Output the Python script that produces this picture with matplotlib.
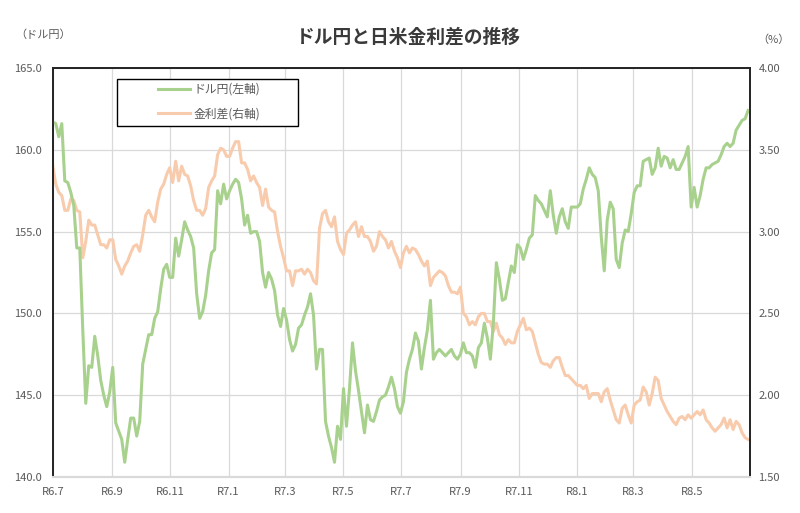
import numpy as np
import pandas as pd
import matplotlib
matplotlib.use("Agg")
from matplotlib import pyplot as plt
from matplotlib.patches import Rectangle

plt.rcParams['font.family'] = ['Noto Sans CJK JP', 'DejaVu Sans']

# ドル円 (left axis), ~3 days apart
usdjpy = [
    161.7, 161.6, 160.8, 161.6, 158.1, 158.0, 157.4, 156.6, 154.0, 154.0,
    149.0, 144.5, 146.8, 146.7, 148.6, 147.4, 145.9, 145.0, 144.3, 145.2,
    146.7, 143.3, 142.8, 142.3, 140.9, 142.3, 143.6, 143.6, 142.5, 143.4,
    146.9, 147.8, 148.7, 148.7, 149.7, 150.1, 151.5, 152.7, 153.0, 152.2,
    152.2, 154.6, 153.5, 154.5, 155.6,
    155.1, 154.7, 154.0, 151.2, 149.7, 150.1, 151.1, 152.6, 153.7, 153.9,
    157.5, 156.7, 157.9, 157.0, 157.5, 157.9, 158.2, 158.0, 157.0, 155.4,
    156.0, 154.9, 155.0, 155.0, 154.4, 152.5, 151.6, 152.5, 152.1, 151.4,
    149.9, 149.2, 150.3, 149.6, 148.4, 147.7, 148.1, 149.1, 149.3, 149.9,
    150.4, 151.2, 149.9, 146.6, 147.8,
    147.8, 143.4, 142.5, 141.8, 140.9, 143.1, 142.3, 145.4, 143.1, 145.4,
    148.2, 146.5, 145.3, 144.0, 142.7, 144.4, 143.5, 143.4, 144.0, 144.7,
    144.9, 145.0, 145.5, 146.1, 145.4, 144.3, 143.9, 144.6, 146.4, 147.2,
    147.8, 148.8, 148.3, 146.6, 147.9, 149.0, 150.8, 147.2, 147.6, 147.8,
    147.6, 147.4, 147.6, 147.8, 147.4,
    147.2, 147.5, 148.2, 147.6, 147.6, 147.4, 146.7, 147.9, 148.2, 149.4,
    148.5, 147.2, 149.4, 153.1, 152.1, 150.8, 150.9, 151.9, 152.9, 152.5,
    154.2, 154.0, 153.3, 153.9, 154.6, 154.8, 157.2, 156.9, 156.7, 156.3,
    155.9, 157.5, 156.0, 154.9, 155.9, 156.4, 155.6, 155.2, 156.5, 156.5,
    156.5, 156.7, 157.6, 158.2, 158.9,
    158.5, 158.3, 157.5, 154.7, 152.6, 155.7, 156.8, 156.4, 153.3, 152.8,
    154.3, 155.1, 155.0, 156.1, 157.4, 157.8, 157.8, 159.3, 159.4, 159.5,
    158.5, 158.9, 160.1, 159.0, 159.6, 159.5, 158.9, 159.4, 158.8, 158.8,
    159.2, 159.6, 160.2, 156.5, 157.7, 156.5, 157.2, 158.2, 158.9, 158.9,
    159.1, 159.2, 159.3, 159.7, 160.2, 160.4, 160.2, 160.4, 161.2, 161.5,
    161.8, 161.9, 162.4,
]

# 金利差 (right axis, %)
spread = [
    3.40, 3.29, 3.24, 3.22, 3.13, 3.13, 3.20, 3.19, 3.13, 3.12,
    2.84, 2.94, 3.07, 3.04, 3.04, 2.98, 2.92, 2.92, 2.90, 2.95,
    2.95, 2.83, 2.79, 2.74, 2.79, 2.82, 2.87, 2.91, 2.92, 2.88,
    2.98, 3.10, 3.13, 3.09, 3.06, 3.18, 3.26, 3.29, 3.35, 3.39,
    3.30, 3.43, 3.31, 3.40, 3.35,
    3.34, 3.28, 3.19, 3.13, 3.13, 3.10, 3.14, 3.27, 3.31, 3.34,
    3.47, 3.51, 3.50, 3.46, 3.46, 3.51, 3.55, 3.55, 3.42, 3.42,
    3.38, 3.31, 3.34, 3.30, 3.27, 3.16, 3.26, 3.15, 3.13, 3.12,
    3.00, 2.91, 2.84, 2.76, 2.76, 2.67, 2.76, 2.76, 2.77, 2.74,
    2.77, 2.75, 2.70, 2.68, 3.02,
    3.11, 3.13, 3.06, 3.03, 3.09, 2.94, 2.89, 2.86, 2.99, 3.01,
    3.04, 3.06, 2.97, 3.03, 2.97, 2.97, 2.94, 2.88, 2.91, 3.00,
    2.97, 2.95, 2.90, 2.94, 2.88, 2.84, 2.78, 2.87, 2.91, 2.87,
    2.90, 2.89, 2.86, 2.82, 2.79, 2.82, 2.67, 2.72, 2.74, 2.76,
    2.75, 2.73, 2.67, 2.63, 2.63,
    2.62, 2.66, 2.50, 2.48, 2.43, 2.45, 2.43, 2.48, 2.50, 2.50,
    2.45, 2.45, 2.39, 2.44, 2.37, 2.35, 2.31, 2.34, 2.32, 2.32,
    2.39, 2.43, 2.47, 2.40, 2.41, 2.39, 2.32, 2.25, 2.20, 2.19,
    2.19, 2.17, 2.21, 2.23, 2.23, 2.17, 2.12, 2.12, 2.10, 2.08,
    2.06, 2.06, 2.04, 2.06, 1.98,
    2.01, 2.01, 2.01, 1.96, 2.02, 2.04, 1.97, 1.91, 1.85, 1.83,
    1.92, 1.94, 1.88, 1.83, 1.94, 1.96, 1.97, 2.05, 2.02, 1.94,
    2.01, 2.11, 2.09, 1.98, 1.94, 1.90, 1.87, 1.84, 1.82, 1.86,
    1.87, 1.85, 1.88, 1.86, 1.88, 1.90, 1.88, 1.91, 1.85, 1.83,
    1.80, 1.78, 1.80, 1.82, 1.86, 1.80, 1.85, 1.79, 1.84, 1.82,
    1.77, 1.74, 1.73,
]

dates = pd.date_range('2024-07-01', '2026-06-29', periods=len(usdjpy))
tick_dates = pd.date_range('2024-07-01', periods=12, freq='2MS')
tick_labels = ['R6.7', 'R6.9', 'R6.11', 'R7.1', 'R7.3', 'R7.5',
               'R7.7', 'R7.9', 'R7.11', 'R8.1', 'R8.3', 'R8.5']

green = '#a9d18e'
orange = '#f8cbad'
grey = '#595959'

fig = plt.figure(figsize=(8, 5.13), dpi=100)
ax2 = fig.add_axes([0.066, 0.0702, 0.8715, 0.7972])
ax = ax2.twinx()
# green series sits on top, grid lives on the bottom axes
ax2.set_zorder(1)
ax.set_zorder(2)
ax.patch.set_visible(False)

ax2.plot(dates, spread, color=orange, lw=2.2, label='金利差(右軸)')
ax.plot(dates, usdjpy, color=green, lw=2.2, label='ドル円(左軸)')

ax.set_ylim(140, 165)
ax.set_yticks(np.arange(140, 166, 5))
ax.set_yticklabels([f'{v:.1f}' for v in np.arange(140, 166, 5)])
ax.yaxis.tick_left()
ax2.set_ylim(1.5, 4.0)
ax2.set_yticks(np.arange(1.5, 4.01, 0.5))
ax2.set_yticklabels([f'{v:.2f}' for v in np.arange(1.5, 4.01, 0.5)])
ax2.yaxis.tick_right()

ax2.set_xlim(pd.Timestamp('2024-07-01'), pd.Timestamp('2026-07-01'))
ax2.set_xticks(tick_dates)
ax2.set_xticklabels(tick_labels)

ax2.grid(True, color='#d9d9d9', lw=0.9)
ax2.set_axisbelow(True)

for a in (ax, ax2):
    a.tick_params(length=0, labelsize=8, labelcolor=grey)
    for side in ('left', 'right', 'top'):
        a.spines[side].set_color('#262626')
        a.spines[side].set_linewidth(1.3)
    a.spines['bottom'].set_color('#d9d9d9')
    a.spines['bottom'].set_linewidth(1.5)
ax.tick_params(axis='y', pad=8)
ax2.tick_params(axis='y', pad=6)
ax2.tick_params(axis='x', pad=7)

fig.text(0.511, 1 - 37 / 513, 'ドル円と日米金利差の推移', ha='center', va='center',
         fontsize=13.5, fontweight='bold', color='#3a3a3a')
fig.text(15 / 800, 1 - 35 / 513, '（ドル円）', ha='left', va='center',
         fontsize=8, color=grey)
fig.text(757 / 800, 1 - 40 / 513, '（%）', ha='left', va='center',
         fontsize=8, color=grey)

# legend box drawn by hand so it can be wider than its contents
fig.patches.append(Rectangle((117 / 800, 1 - 126 / 513), 181 / 800, 47 / 513,
                             transform=fig.transFigure, facecolor='white',
                             edgecolor='black', lw=1.0, zorder=3))
h1, l1 = ax.get_legend_handles_labels()
h2, l2 = ax2.get_legend_handles_labels()
leg = fig.legend(h1 + h2, l1 + l2, loc='upper left',
                 bbox_to_anchor=(158 / 800, 1 - 83 / 513),
                 frameon=False, fontsize=8.5, handlelength=2.7,
                 handletextpad=0.3, labelspacing=0.95, borderpad=0,
                 borderaxespad=0)
leg.set_zorder(4)
for t in leg.get_texts():
    t.set_color(grey)

fig.savefig('out.png', dpi=100)
